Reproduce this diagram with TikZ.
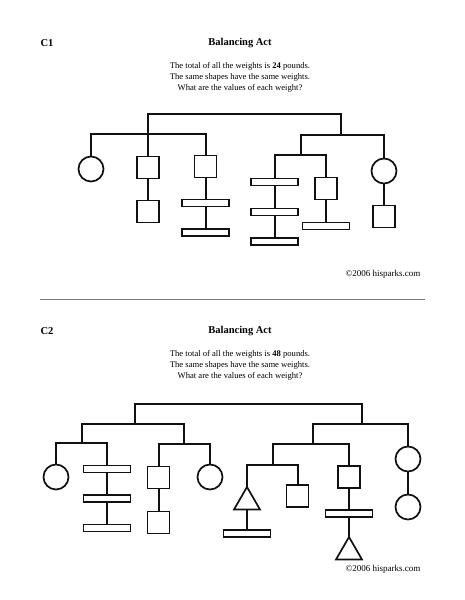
\documentclass[tikz,border=0pt]{standalone}
\usepackage{fontspec}
\setmainfont{Liberation Serif}
\usetikzlibrary{shapes.geometric,positioning}
\definecolor{inkblack}{HTML}{111111}
\definecolor{rulegray}{HTML}{7A7A7A}
\begin{document}
\begin{tikzpicture}[x=1pt,y=-1pt]
\tikzstyle{wgt}=[draw=inkblack,line width=1.7pt,fill=white,inner sep=0pt,outer sep=0pt]
\tikzstyle{sqw}=[wgt,minimum size=22pt]
\tikzstyle{rndw}=[wgt,circle,minimum size=25pt]
\tikzstyle{plankw}=[wgt,minimum width=47pt,minimum height=7pt]
\tikzstyle{triw}=[wgt,regular polygon,regular polygon sides=3,minimum size=30pt,anchor=north]
\tikzstyle{rod}=[draw=inkblack,line width=2pt]
\tikzstyle{topbar}=[draw=inkblack,line width=2.7pt]
\tikzstyle{heading}=[font=\fontsize{10.5}{12}\selectfont\bfseries]
\tikzstyle{body}=[font=\fontsize{8.6}{11}\selectfont,align=center]
\tikzstyle{credit}=[font=\fontsize{9}{10}\selectfont]
\fill[white] (0,0) rectangle (464,600);
\useasboundingbox (0,0) rectangle (464,600);

\node[heading] (c1tag) at (47,43) {C1};
\node[heading] (c1title) at (240,43) {Balancing Act};
\node[body] (c1text) at (240,77) {The total of all the weights is \textbf{24} pounds.\\The same shapes have the same weights.\\What are the values of each weight?};
\node[credit] (c1credit) at (383,274) {©2006 hisparks.com};

\coordinate (c1top) at (148,114);
\coordinate (c1hubA) at (148,134);
\coordinate (c1hubB) at (341,135);
\coordinate (c1hubC) at (301,155);
\node[rndw] (c1ring1) at (91,169) {};
\node[sqw] (c1box1) at (148,167.5) {};
\node[sqw] (c1box2) at (148,211.5) {};
\node[sqw] (c1box3) at (205.5,166.5) {};
\node[plankw] (c1bar1) at (205.5,203) {};
\node[plankw] (c1bar2) at (205.5,232.5) {};
\node[plankw] (c1bar3) at (274.5,182) {};
\node[plankw] (c1bar4) at (274.5,212) {};
\node[plankw] (c1bar5) at (274.5,241.5) {};
\node[sqw] (c1box4) at (326,188.5) {};
\node[plankw] (c1bar6) at (326,226) {};
\node[rndw] (c1ring2) at (384,171) {};
\node[sqw] (c1box5) at (384,216.5) {};

\draw[topbar] (c1hubA) -- (c1top) -| (c1hubB);
\draw[rod] (c1ring1.north) |- (c1hubA) -| (c1box3.north);
\draw[rod] (c1hubA) -- (c1box1.north);
\draw[rod] (c1box1) -- (c1box2);
\draw[rod] (c1box3) -- (c1bar1);
\draw[rod] (c1bar1) -- (c1bar2);
\draw[rod] (c1hubC) |- (c1hubB) -| (c1ring2.north);
\draw[rod] (c1bar3.north) |- (c1hubC) -| (c1box4.north);
\draw[rod] (c1bar3) -- (c1bar4);
\draw[rod] (c1bar4) -- (c1bar5);
\draw[rod] (c1box4) -- (c1bar6);
\draw[rod] (c1ring2) -- (c1box5);

\draw[rulegray,line width=0.8pt] (40,299) -- (425,299);

\node[heading] (c2tag) at (47,331) {C2};
\node[heading] (c2title) at (240,331) {Balancing Act};
\node[body] (c2text) at (240,365) {The total of all the weights is \textbf{48} pounds.\\The same shapes have the same weights.\\What are the values of each weight?};
\node[credit] (c2credit) at (383,569) {©2006 hisparks.com};

\coordinate (c2top) at (135,404);
\coordinate (c2hubD) at (135,424);
\coordinate (c2hubE) at (362,424);
\coordinate (c2hubF) at (82,443);
\coordinate (c2hubG) at (184,444);
\coordinate (c2hubH) at (313,444);
\coordinate (c2hubI) at (273,465);
\node[rndw] (c2ring1) at (56,477) {};
\node[plankw] (c2bar1) at (107,469) {};
\node[plankw] (c2bar2) at (107,498.5) {};
\node[plankw] (c2bar3) at (107,528) {};
\node[sqw] (c2box1) at (158.5,477.5) {};
\node[sqw] (c2box2) at (158.5,522.5) {};
\node[rndw] (c2ring2) at (210,477) {};
\node[triw] (c2tri1) at (247,487) {};
\node[plankw] (c2bar4) at (247,533.5) {};
\node[sqw] (c2box3) at (297.5,496) {};
\node[sqw] (c2box4) at (349,477) {};
\node[plankw] (c2bar5) at (349,513.5) {};
\node[triw] (c2tri2) at (349,537) {};
\node[rndw] (c2ring3) at (408,459) {};
\node[rndw] (c2ring4) at (408,507) {};

\draw[topbar] (c2hubD) -- (c2top) -| (c2hubE);
\draw[rod] (c2hubF) |- (c2hubD) -| (c2hubG);
\draw[rod] (c2ring1.north) |- (c2hubF) -| (c2bar1.north);
\draw[rod] (c2bar1) -- (c2bar2);
\draw[rod] (c2bar2) -- (c2bar3);
\draw[rod] (c2box1.north) |- (c2hubG) -| (c2ring2.north);
\draw[rod] (c2box1) -- (c2box2);
\draw[rod] (c2hubH) |- (c2hubE) -| (c2ring3.north);
\draw[rod] (c2hubI) |- (c2hubH) -| (c2box4.north);
\draw[rod] (c2tri1.north) |- (c2hubI) -| (c2box3.north);
\draw[rod] (c2tri1.south) -- (c2bar4);
\draw[rod] (c2box4) -- (c2bar5);
\draw[rod] (c2bar5) -- (c2tri2.north);
\draw[rod] (c2ring3) -- (c2ring4);
\end{tikzpicture}
\end{document}
